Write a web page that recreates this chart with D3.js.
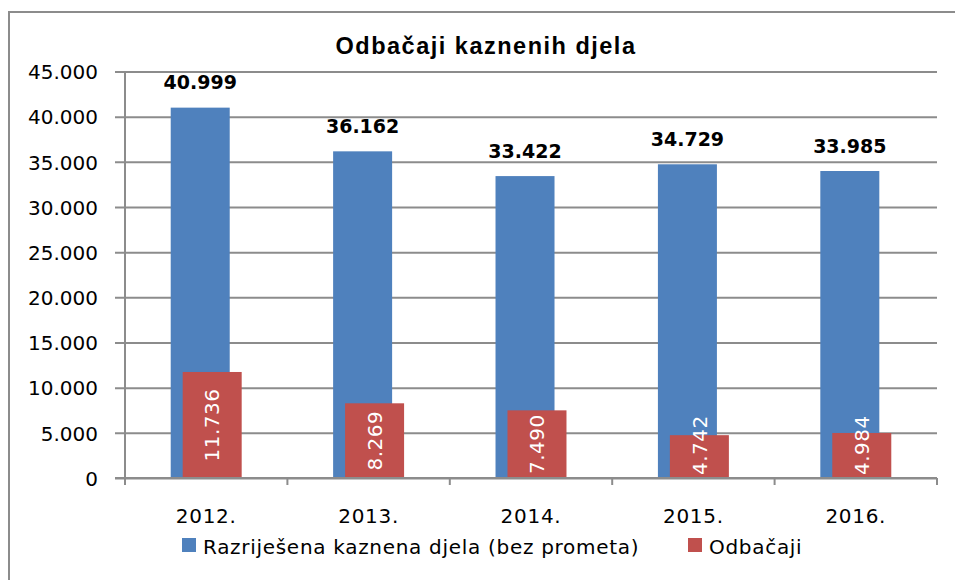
<!DOCTYPE html>
<html>
<head>
<meta charset="utf-8">
<script src="https://cdn.jsdelivr.net/npm/d3@7/dist/d3.min.js"></script>
<style>
  html, body { margin: 0; padding: 0; background: #fff; }
  svg { display: block; }
</style>
</head>
<body>
<svg id="chart" width="955" height="580"></svg>
<script>
const categories = ["2012.", "2013.", "2014.", "2015.", "2016."];
const resolved = [40999, 36162, 33422, 34729, 33985];
const dismissed = [11736, 8269, 7490, 4742, 4984];
const yTicks = [0, 5000, 10000, 15000, 20000, 25000, 30000, 35000, 40000, 45000];
const seriesNames = ["Razriješena kaznena djela (bez prometa)", "Odbačaji"];
const colors = ["#4F81BD", "#C0504D"];
const title = "Odbačaji kaznenih djela";

const fmt = v => v === 0 ? "0" : d3.format(",")(v).replace(/,/g, ".");

const svg = d3.select("#chart");
const gridColor = "#8c8c8c";

// frame
svg.append("rect").attr("x", 9).attr("y", 12).attr("width", 960).attr("height", 600)
  .attr("fill", "#fff").attr("stroke", gridColor).attr("stroke-width", 2);

const x0 = 125, x1 = 937, yTop = 71.5, yBot = 478;
const x = d3.scaleBand().domain(categories).range([x0, x1]).paddingInner(0.563).paddingOuter(0.2815);
const y = d3.scaleLinear().domain([0, 45000]).range([yBot, yTop]);
const barW = 59;
const shift = x.bandwidth() - barW;

// gridlines + y ticks
const yAxis = d3.axisLeft(y).tickValues(yTicks).tickSize(10).tickFormat(fmt).tickPadding(17);
const gy = svg.append("g").attr("transform", `translate(${x0},0)`).call(yAxis);
gy.select(".domain").remove();
gy.selectAll(".tick line").attr("stroke", gridColor).attr("stroke-width", 2)
  .attr("x1", -10).attr("x2", x1 - x0);
gy.selectAll(".tick text").attr("font-family", "DejaVu Sans, Verdana, sans-serif")
  .attr("font-size", 20).attr("fill", "#000").attr("dy", "0.36em");

// y axis line
svg.append("line").attr("x1", x0).attr("x2", x0).attr("y1", yTop).attr("y2", yBot + 7)
  .attr("stroke", gridColor).attr("stroke-width", 2);

// x axis ticks at category boundaries
const bounds = d3.range(categories.length + 1).map(i => x0 + i * (x1 - x0) / categories.length);
svg.selectAll(".xtick").data(bounds).enter().append("line")
  .attr("x1", d => d).attr("x2", d => d).attr("y1", yBot).attr("y2", yBot + 7)
  .attr("stroke", gridColor).attr("stroke-width", 2);

// bars
const data = categories.map((c, i) => ({ c, a: resolved[i], b: dismissed[i] }));
svg.selectAll(".barA").data(data).enter().append("rect")
  .attr("x", d => x(d.c)).attr("y", d => y(d.a)).attr("width", barW)
  .attr("height", d => yBot - y(d.a)).attr("fill", colors[0]);
svg.selectAll(".barB").data(data).enter().append("rect")
  .attr("x", d => x(d.c) + shift).attr("y", d => y(d.b)).attr("width", barW)
  .attr("height", d => yBot - y(d.b)).attr("fill", colors[1]);

// x-axis line on top of bars
svg.append("line").attr("x1", x0 - 10).attr("x2", x1).attr("y1", yBot).attr("y2", yBot)
  .attr("stroke", gridColor).attr("stroke-width", 2);

// labels on blue bars
svg.selectAll(".labA").data(data).enter().append("text")
  .attr("x", d => x(d.c) + barW / 2).attr("y", d => y(d.a) - 18.5)
  .attr("text-anchor", "middle").attr("font-family", "DejaVu Sans, Verdana, sans-serif")
  .attr("font-weight", "bold").attr("font-size", 19).attr("fill", "#000")
  .text(d => fmt(d.a));

// rotated labels on red bars
svg.selectAll(".labB").data(data).enter().append("text")
  .attr("font-family", "DejaVu Sans, Verdana, sans-serif").attr("font-size", 20)
  .attr("letter-spacing", 0.5).attr("fill", "#fff").attr("text-anchor", "middle")
  .attr("dy", "0.36em")
  .text(d => fmt(d.b))
  .each(function(d) {
    const len = this.getComputedTextLength();
    const cx = x(d.c) + shift + barW / 2;
    const cy = Math.min((y(d.b) + yBot) / 2, yBot - len / 2 - 3);
    d3.select(this).attr("transform", `translate(${cx},${cy}) rotate(-90)`);
  });

// category labels
svg.selectAll(".xl").data(categories).enter().append("text")
  .attr("x", d => x(d) + x.bandwidth() / 2).attr("y", 523)
  .attr("text-anchor", "middle").attr("font-family", "DejaVu Sans, Verdana, sans-serif")
  .attr("font-size", 20).attr("letter-spacing", 0.7).attr("fill", "#000").text(d => d);

// title
svg.append("text").attr("x", 486).attr("y", 54).attr("text-anchor", "middle")
  .attr("font-family", "Liberation Sans, Arial, sans-serif").attr("font-weight", "bold")
  .attr("font-size", 23.5).attr("letter-spacing", 1.5).attr("fill", "#000").text(title);

// legend
const legendX = [182, 688];
seriesNames.forEach((n, i) => {
  svg.append("rect").attr("x", legendX[i]).attr("y", 538).attr("width", 14).attr("height", 14)
    .attr("fill", colors[i]);
  svg.append("text").attr("x", legendX[i] + 21).attr("y", 554)
    .attr("font-family", "DejaVu Sans, Verdana, sans-serif").attr("font-size", 20)
    .attr("letter-spacing", 0.7).attr("fill", "#000").text(n);
});
</script>
</body>
</html>
